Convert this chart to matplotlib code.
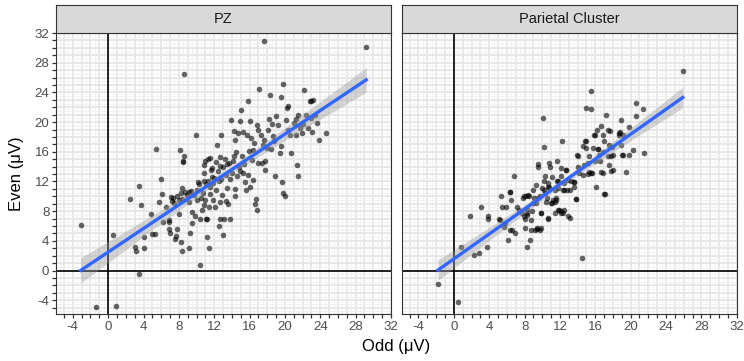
import numpy as np
import matplotlib
matplotlib.use('Agg')
import matplotlib.pyplot as plt
from matplotlib.ticker import MultipleLocator, FuncFormatter

plt.rcParams['font.family'] = ['Liberation Sans', 'DejaVu Sans']
plt.rcParams['axes.unicode_minus'] = False

panel_names = ['PZ', 'Parietal Cluster']

# PZ: odd-trial vs even-trial amplitudes (uV)
pz_odd = [-3.1, -1.4, 0.9, 0.6, 8.6, 17.6, 29.2, 3.5, 10.4, 2.5, 3.5, 3.7, 3.0, 3.1, 4.0, 4.1,
          4.8, 5.0, 5.3, 5.4, 5.7, 6.0, 6.1, 6.2, 6.5, 6.9, 6.9, 7.0, 7.1, 7.2, 7.4, 7.6, 7.7,
          7.8, 8.0, 8.1, 8.3, 8.4, 8.2, 8.5, 8.5, 8.6, 8.4, 8.7, 8.9, 9.1, 9.2, 9.3, 9.2, 9.5,
          9.8, 9.9, 10.1, 10.4, 10.6, 10.7, 10.8, 10.9, 10.9, 11.0, 11.1, 11.2, 11.2, 11.4,
          11.3, 11.5, 11.5, 11.6, 11.7, 11.8, 11.9, 12.1, 12.2, 12.3, 12.5, 12.6, 12.7, 12.8,
          12.7, 13.0, 13.0, 13.1, 13.2, 13.5, 13.6, 13.7, 13.8, 13.9, 14.0, 14.2, 14.2, 14.4,
          14.5, 14.6, 14.7, 14.9, 14.9, 15.0, 15.1, 15.2, 15.4, 15.5, 15.6, 15.7, 15.8, 16.0,
          16.1, 16.3, 16.4, 16.5, 16.6, 16.7, 16.8, 16.8, 17.0, 17.1, 17.3, 17.4, 17.6, 17.8,
          18.0, 18.2, 18.3, 18.4, 18.5, 18.7, 18.9, 19.0, 19.4, 19.5, 19.6, 19.7, 19.8, 19.8,
          20.0, 20.1, 20.2, 20.4, 20.6, 20.7, 21.0, 21.2, 21.4, 21.5, 21.5, 21.7, 21.9, 22.2,
          22.4, 22.6, 22.8, 23.0, 23.1, 23.2, 23.4, 23.6, 23.8, 24.6, 6.9, 8.0,
          7.3, 7.8, 8.2, 9.4, 9.7, 10.0, 10.3, 10.5, 10.9, 11.1, 11.3, 11.4, 11.9, 12.0, 12.2,
          12.4, 12.8, 12.9, 13.3, 13.4, 13.8, 14.1, 14.4, 14.8, 15.3, 15.9, 16.2, 16.9, 17.5,
          18.1, 18.8, 19.2, 20.4, 21.3, 22.0, 22.9, 11.0, 11.5, 12.6, 10.2, 9.5, 12.5, 13.3,
          14.3, 15.8, 16.4, 17.8]
pz_even = [6.2, -4.9, -4.8, 4.8, 26.5, 30.9, 30.1, -0.4, 0.7, 9.6, 11.4, 8.8, 3.2, 2.7, 3.0, 4.5,
           7.6, 4.9, 4.9, 16.4, 9.3, 12.3, 10.3, 6.5, 8.5, 6.8, 5.6, 5.0, 9.9, 9.4, 9.1, 4.2, 4.6,
           5.6, 9.5, 16.3, 9.6, 2.7, 3.9, 14.6, 14.7, 15.4, 11.1, 10.6, 10.2, 10.6, 9.3, 5.0, 3.0,
           6.4, 7.3, 18.2, 9.5, 7.0, 8.2, 10.5, 12.0, 13.1, 14.2, 9.5, 6.9, 7.0, 4.5, 3.0,
           15.0, 11.3, 10.3, 13.6, 12.6, 13.8, 9.5, 8.6, 14.6, 16.9, 12.0, 14.1, 9.3, 18.3,
           7.0, 14.0, 4.8, 7.0, 15.0, 11.1, 8.9, 14.5, 7.0, 20.3, 13.1, 15.4, 18.8, 10.0,
           16.0, 12.8, 18.5, 20.1, 13.4, 21.6, 15.4, 18.6, 14.4, 11.9, 10.9, 18.3, 22.9, 11.3,
           20.1, 14.9, 16.3, 17.2, 8.9, 9.6, 8.2, 19.6, 14.5, 24.5, 18.3, 14.5, 17.6, 14.8,
           16.5, 20.4, 23.6, 16.4, 19.7, 18.1, 12.8, 20.8, 15.8, 16.8, 23.4, 11.9, 25.1, 10.4,
           10.0, 20.3, 21.9, 22.2, 18.3, 15.9, 19.9, 18.3, 14.2, 21.0, 12.8, 19.2, 18.5, 24.3,
           21.0, 19.2, 22.9, 22.9, 18.6, 23.0, 21.0, 19.9, 17.6, 18.5, 6.5, 7.6,
           9.8, 10.0, 10.4, 10.7, 10.2, 10.8, 11.6, 9.8, 8.8, 11.7, 12.1, 8.5, 11.8, 12.5, 10.8,
           13.4, 12.4, 10.2, 12.9, 14.3, 12.3, 14.8, 17.6, 14.0, 13.2, 16.1, 17.8, 18.9, 16.9,
           18.9, 17.4, 19.6, 18.9, 20.4, 19.8, 20.5, 14.8, 15.2, 15.3, 11.9, 7.9, 6.0, 9.4,
           11.0, 12.9, 12.2, 13.6]

# Parietal cluster
par_odd = [-1.8, 0.5, 0.8, 2.3, 2.8, 1.8, 3.1, 3.8, 3.9, 3.9, 5.1, 5.2, 5.4, 5.7, 5.9, 6.1, 6.3,
           6.4, 6.5, 6.4, 6.6, 6.8, 6.9, 7.2, 7.4, 7.7, 7.8, 7.9, 8.0, 8.1, 8.3, 8.3, 8.4, 8.6,
           8.7, 8.9, 9.0, 9.2, 9.3, 9.4, 9.5, 9.5, 9.7, 9.7, 9.9, 9.9, 10.0, 10.1, 10.2, 10.2,
           10.3, 10.4, 10.6, 10.7, 10.8, 10.9, 11.0, 11.1, 11.2, 11.4, 11.5, 11.6, 11.7, 11.7,
           11.8, 11.9, 12.1, 12.2, 12.3, 12.5, 12.7, 12.9, 13.1, 13.3, 13.6, 13.6, 13.8, 13.9,
           14.1, 14.2, 14.5, 14.6, 14.7, 14.8, 14.9, 15.2, 15.3, 15.3, 15.5, 15.5, 15.6, 15.7,
           15.8, 16.0, 16.1, 16.2, 16.3, 16.4, 16.5, 16.6, 16.7, 16.9, 17.0, 17.1, 17.2, 17.4,
           17.4, 17.6, 17.7, 17.8, 17.9, 18.0, 18.7, 18.8, 18.9, 18.9, 19.0, 19.1, 19.5, 19.8,
           19.8, 20.3, 20.6, 20.6, 21.4, 21.5, 25.9,
           16.0, 17.0, 18.7, 14.9, 15.0, 16.3, 16.9, 17.6, 18.0, 19.1, 14.0, 12.7, 12.1, 13.8,
           12.5, 12.8, 13.6, 14.6, 15.2, 15.5, 16.9, 17.8, 5.3, 5.8, 8.3, 7.9, 8.2, 8.5, 8.3,
           8.8, 8.7, 9.4, 9.1, 9.3, 9.5, 9.9, 10.6, 10.2, 10.3, 10.6, 10.8, 10.5, 11.1, 11.4,
           11.6, 11.8, 12.1, 12.4, 11.8, 12.1, 12.5, 12.9, 13.1]
par_even = [-1.8, -4.2, 3.2, 2.1, 2.4, 7.4, 8.5, 3.2, 7.3, 7.0, 7.0, 6.8, 8.6, 5.9, 8.6, 4.1, 10.6,
            10.6, 9.5, 5.5, 5.4, 12.7, 5.0, 8.6, 8.2, 7.7, 9.8, 7.4, 7.0, 5.8, 3.2, 8.3, 10.2, 4.1,
            6.8, 9.1, 10.8, 5.5, 11.5, 5.7, 14.0, 14.3, 10.0, 5.5, 5.7, 7.7, 11.1, 20.6, 16.7, 12.0,
            10.4, 9.3, 7.0, 11.2, 14.5, 14.0, 9.1, 12.6, 9.5, 7.7, 10.9, 9.5, 14.7, 12.0,
            11.1, 8.2, 13.8, 17.5, 10.8, 8.2, 13.5, 7.3, 7.1, 12.0, 11.9, 11.3, 9.6, 15.5,
            14.0, 13.1, 1.7, 16.8, 14.2, 17.4, 21.9, 14.5, 13.3, 15.4, 21.7, 24.2, 13.2, 16.5,
            18.2, 14.7, 11.3, 18.9, 16.4, 15.5, 14.7, 19.5, 13.3, 18.2, 10.3, 10.3, 21.0, 19.0,
            15.4, 14.2, 18.8, 15.4, 16.7, 13.5, 18.5, 18.7, 20.3, 16.9, 15.6, 18.3, 13.3, 19.3,
            15.5, 16.3, 20.8, 22.6, 21.7, 15.9, 26.9,
            18.2, 17.4, 18.3, 17.5, 16.5, 16.4, 16.0, 16.9, 15.6, 15.6, 15.4, 13.6, 8.0, 9.7,
            10.8, 10.8, 11.9, 12.9, 13.0, 13.2, 13.2, 13.4, 10.0, 6.4, 7.8, 10.1, 10.0, 10.1, 7.5,
            8.0, 5.5, 5.6, 9.8, 9.1, 9.8, 7.8, 7.1, 10.9, 12.7, 11.8, 11.3, 9.8, 9.1, 9.3,
            9.8, 8.2, 7.7, 7.7, 12.0, 12.7, 11.8, 12.2, 10.9]

x_labels = np.arange(-4, 33, 4)
y_labels = np.arange(-4, 33, 4)

W, H = 744, 361


def box(l, t, r, b):
    return [l / W, 1 - b / H, (r - l) / W, (b - t) / H]


def label4(v, pos):
    return str(int(round(v))) if abs(v - round(v)) < 1e-6 and int(round(v)) % 4 == 0 else ''


fig = plt.figure(figsize=(7.44, 3.61), dpi=100)

data = [(pz_odd, pz_even), (par_odd, par_even)]
for i, name in enumerate(panel_names):
    xs = np.array(data[i][0])
    ys = np.array(data[i][1])
    left = 56 if i == 0 else 401.7
    ax = fig.add_axes(box(left, 33, left + 335, 314))
    ax.set_xlim(-5.9, 32)
    ax.set_ylim(-5.85, 32)

    ax.xaxis.set_major_locator(MultipleLocator(1))
    ax.yaxis.set_major_locator(MultipleLocator(1))
    ax.xaxis.set_minor_locator(MultipleLocator(0.5))
    ax.yaxis.set_minor_locator(MultipleLocator(0.5))
    ax.xaxis.set_major_formatter(FuncFormatter(label4))
    ax.yaxis.set_major_formatter(FuncFormatter(label4))
    ax.grid(which='major', color='#E6E6E6', lw=1.3, zorder=0)
    ax.grid(which='minor', color='#F0F0F0', lw=0.6, zorder=0)
    ax.set_axisbelow(True)
    ax.tick_params(which='major', length=2.8, width=0.9, color='#333333',
                   labelsize=9.5, labelcolor='#4D4D4D', pad=2)
    ax.tick_params(which='minor', length=0)
    if i == 1:
        ax.tick_params(axis='y', which='both', left=False, labelleft=False)
    for s in ax.spines.values():
        s.set_color('#333333')
        s.set_linewidth(0.8)

    ax.axhline(0, color='black', lw=1.2, zorder=1)
    ax.axvline(0, color='black', lw=1.2, zorder=1)

    ax.scatter(xs, ys, s=16, color='black', alpha=0.6, linewidths=0, zorder=2)

    # linear fit with 95% confidence band
    slope, icept = np.polyfit(xs, ys, 1)
    n = len(xs)
    resid = ys - (slope * xs + icept)
    s_err = np.sqrt(np.sum(resid ** 2) / (n - 2))
    xg = np.linspace(xs.min(), xs.max(), 80)
    yg = slope * xg + icept
    se = s_err * np.sqrt(1 / n + (xg - xs.mean()) ** 2 / np.sum((xs - xs.mean()) ** 2))
    ax.fill_between(xg, yg - 1.97 * se, yg + 1.97 * se, color='#999999', alpha=0.4,
                    linewidth=0, zorder=3)
    ax.plot(xg, yg, color='#3366FF', lw=2.4, zorder=4)

    # facet strip
    sax = fig.add_axes(box(left, 5, left + 335, 33))
    sax.set_facecolor('#D9D9D9')
    sax.set_xticks([])
    sax.set_yticks([])
    for s in sax.spines.values():
        s.set_color('#333333')
        s.set_linewidth(0.8)
    sax.text(0.5, 0.5, name, ha='center', va='center', fontsize=10.5, color='#1A1A1A',
             transform=sax.transAxes)

fig.text(396 / W, 1 - 346 / H, 'Odd (\u03bcV)', ha='center', va='center', fontsize=12)
fig.text(17 / W, 1 - 173.5 / H, 'Even (\u03bcV)', ha='center', va='center', rotation=90,
         fontsize=12)

fig.savefig('out.png', dpi=100)
